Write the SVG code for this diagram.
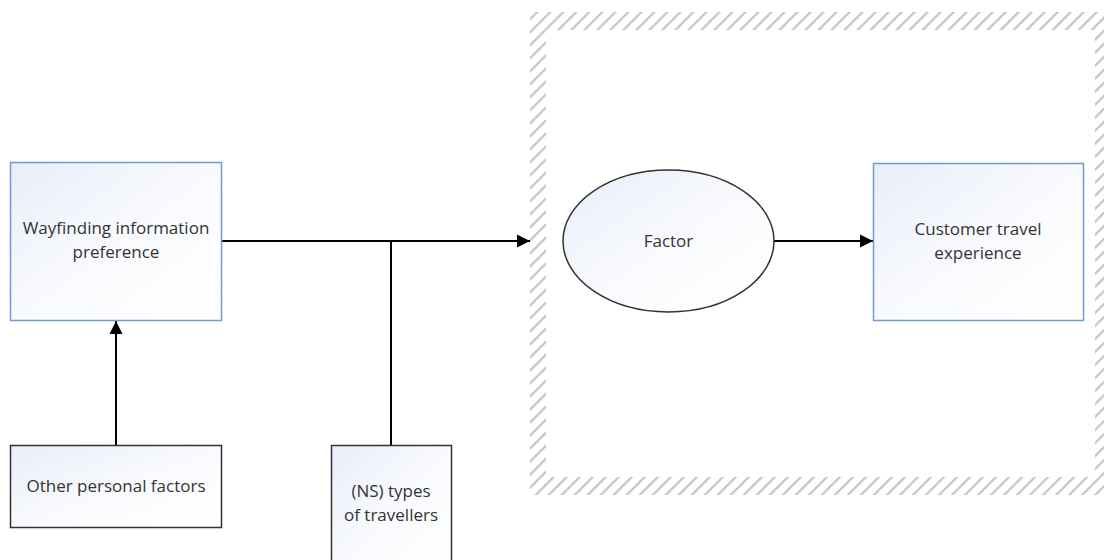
<svg xmlns="http://www.w3.org/2000/svg" width="1104" height="560" viewBox="0 0 1104 560">
  <defs>
    <linearGradient id="fillGrad" x1="0" y1="0" x2="1" y2="1">
      <stop offset="0" stop-color="#e8eef8"/>
      <stop offset="0.55" stop-color="#fafbfe"/>
      <stop offset="1" stop-color="#ffffff"/>
    </linearGradient>
    <pattern id="hatch" patternUnits="userSpaceOnUse" width="9.2" height="9.2" patternTransform="rotate(45)">
      <line x1="2" y1="0" x2="2" y2="9.2" stroke="#c4c4c4" stroke-width="2.2"/>
    </pattern>
    <marker id="arrow" viewBox="0 0 14 14" refX="13" refY="7" markerWidth="14" markerHeight="14" markerUnits="userSpaceOnUse" orient="auto">
      <path d="M0,0.5 L13,7 L0,13.5 Z" fill="#000"/>
    </marker>
  </defs>
  <style>
    .blue { fill: url(#fillGrad); stroke: #6f9bd1; stroke-width: 1.5; }
    .dark { fill: url(#fillGrad); stroke: #333; stroke-width: 1.5; }
    .lbl { font-family: "Open Sans", "Liberation Sans", sans-serif; font-size: 17px; fill: #333; text-anchor: middle; }
    .conn { stroke: #000; stroke-width: 2; fill: none; }
  </style>
  <rect width="1104" height="560" fill="#fff"/>

  <g id="frame">
    <path d="M530,12 H1112 V495 H530 Z M546,30 V477 H1095 V30 Z" fill="url(#hatch)" fill-rule="evenodd"/>
  </g>

  <g id="connectors">
    <line class="conn" x1="221" y1="241" x2="530" y2="241" marker-end="url(#arrow)"/>
    <line class="conn" x1="391" y1="241" x2="391" y2="445"/>
    <line class="conn" x1="116" y1="445" x2="116" y2="321" marker-end="url(#arrow)"/>
    <line class="conn" x1="774" y1="241" x2="873" y2="241" marker-end="url(#arrow)"/>
  </g>

  <g id="wayfinding">
    <rect class="blue" x="10.5" y="162.5" width="211" height="158"/>
    <text class="lbl" x="116" y="234">Wayfinding information</text>
    <text class="lbl" x="116" y="258">preference</text>
  </g>

  <g id="other-personal">
    <rect class="dark" x="10.5" y="445.5" width="211" height="82"/>
    <text class="lbl" x="116" y="492">Other personal factors</text>
  </g>

  <g id="ns-types">
    <rect class="dark" x="331.5" y="445.5" width="120" height="130"/>
    <text class="lbl" x="391" y="497">(NS) types</text>
    <text class="lbl" x="391" y="521">of travellers</text>
  </g>

  <g id="factor">
    <ellipse class="dark" cx="668.5" cy="241" rx="105.5" ry="71"/>
    <text class="lbl" x="668.5" y="247">Factor</text>
  </g>

  <g id="customer">
    <rect class="blue" x="873.5" y="163.5" width="210" height="157"/>
    <text class="lbl" x="978" y="235">Customer travel</text>
    <text class="lbl" x="978" y="259">experience</text>
  </g>
</svg>
